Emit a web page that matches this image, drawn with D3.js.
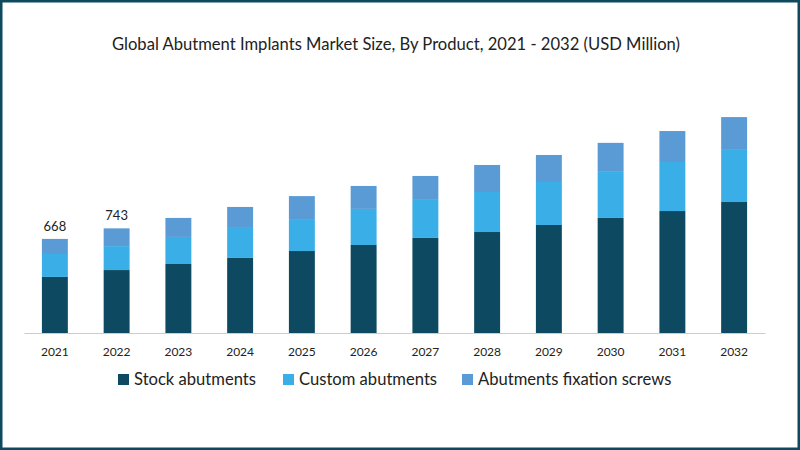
<!DOCTYPE html>
<html><head><meta charset="utf-8">
<script src="https://cdn.jsdelivr.net/npm/d3@7"></script>
<style>body{margin:0;background:#fff}svg{display:block}</style>
</head><body>
<svg id="c" width="800" height="450"></svg>
<script>
const years = ["2021","2022","2023","2024","2025","2026","2027","2028","2029","2030","2031","2032"];
const stock = [398,447,490,533,582,625,675,717,767,817,866,930];
const custom = [163,170,192,213,227,256,270,284,305,327,348,376];
const screws = [107,126,135,149,163,163,170,192,192,206,220,227];
const seriesNames = ["Stock abutments","Custom abutments","Abutments fixation screws"];
const colors = ["#0d4a62","#3aaee6","#5b9bd5"];
const labels = {"2021":"668","2022":"743"};

const svg = d3.select("#c");
svg.append("rect").attr("x",1).attr("y",1).attr("width",798).attr("height",448)
  .attr("fill","#fff").attr("stroke","#0d4a5e").attr("stroke-width",3);
svg.append("text").attr("x",396).attr("y",50).attr("text-anchor","middle")
  .attr("font-family","Lato, 'Open Sans', sans-serif").attr("font-size",16.6).attr("fill","#222")
  .text("Global Abutment Implants Market Size, By Product, 2021 - 2032 (USD Million)");

const rows = years.map((y,i)=>({year:y,s0:stock[i],s1:custom[i],s2:screws[i]}));
const stack = d3.stack().keys(["s0","s1","s2"])(rows);
const x = d3.scaleBand().domain(years).range([24,765]).paddingInner(0.58).paddingOuter(0.29);
const yS = d3.scaleLinear().domain([0,1600]).range([333,333-1600/7.1]);

stack.forEach((layer,k)=>{
  svg.append("g").selectAll("rect").data(layer).join("rect")
    .attr("x",d=>x(d.data.year)).attr("width",x.bandwidth())
    .attr("y",d=>yS(d[1])).attr("height",d=>yS(d[0])-yS(d[1]))
    .attr("fill",colors[k]);
});
svg.append("g").selectAll("text").data(rows.filter(r=>labels[r.year])).join("text")
  .attr("x",d=>x(d.year)+x.bandwidth()/2).attr("y",d=>yS(d.s0+d.s1+d.s2)-8)
  .attr("text-anchor","middle").attr("font-family","Lato, sans-serif").attr("font-size",13).attr("fill","#222")
  .text(d=>labels[d.year]);

const ax = svg.append("g").attr("transform","translate(0,333)")
  .call(d3.axisBottom(x).tickSize(0).tickPadding(14));
ax.select(".domain").attr("stroke","#ccc");
ax.selectAll("text").attr("font-family","Lato, sans-serif").attr("font-size",12).attr("fill","#222");

const lg = svg.append("g");
const lx = [118,283,462];
seriesNames.forEach((n,i)=>{
  lg.append("rect").attr("x",lx[i]).attr("y",374).attr("width",11).attr("height",11).attr("fill",colors[i]);
  lg.append("text").attr("x",lx[i]+16).attr("y",385).attr("font-family","Lato, sans-serif")
    .attr("font-size",16.6).attr("fill","#222").text(n);
});
</script>
</body></html>
